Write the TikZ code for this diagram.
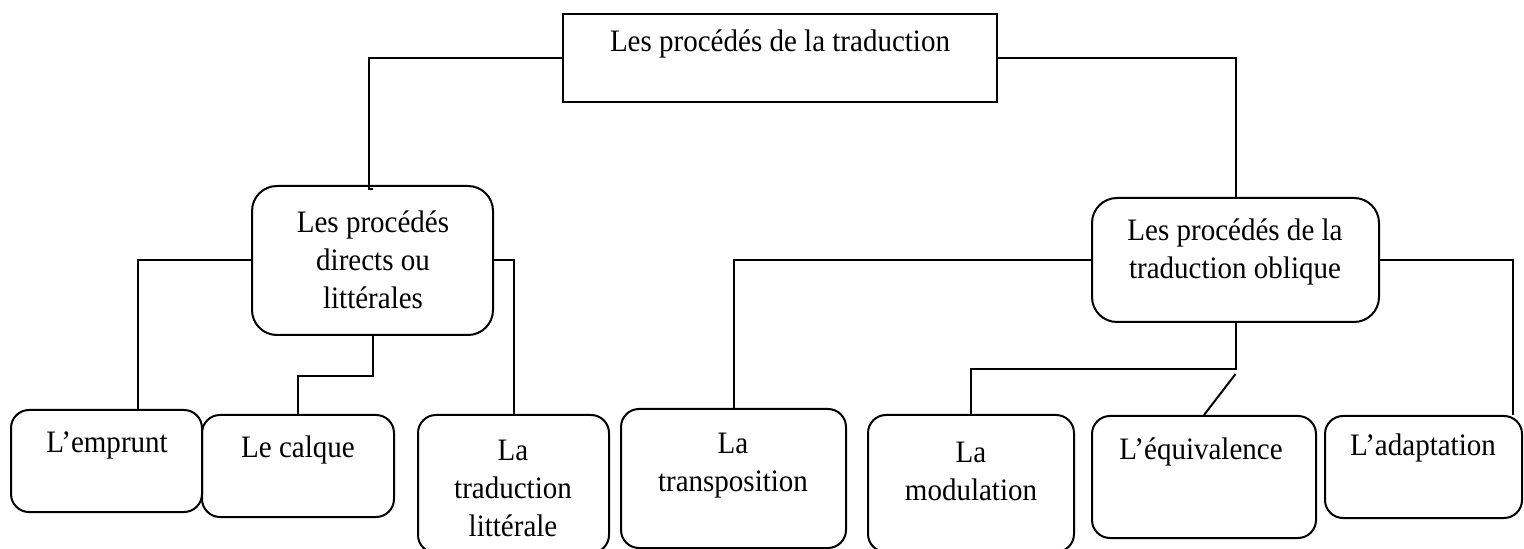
\documentclass[tikz,border=0pt]{standalone}
\usepackage{fontspec}
\setmainfont[FakeStretch=0.93]{Liberation Serif}
\begin{document}
\begin{tikzpicture}[x=0.5pt,y=-0.5pt,line width=1pt,
    proc/.style={draw,rounded corners=9pt,inner sep=0pt},
    lbl/.style={align=center,inner sep=0pt,font=\fontsize{15.6}{19}\selectfont}]

\useasboundingbox (0,0) rectangle (1524,549);
\clip (0,0) rectangle (1524,549);

\node[draw,inner sep=0pt,minimum width=217pt,minimum height=44pt] (top) at (780,58) {};
\node[proc,rounded corners=12.5pt,minimum width=120.5pt,minimum height=74.5pt] (directs) at (372.5,260.5) {};
\node[proc,rounded corners=12.5pt,minimum width=143.5pt,minimum height=62pt] (oblique) at (1235.5,260) {};

\node[proc,minimum width=95.5pt,minimum height=51pt] (emprunt) at (106.5,461) {};
\node[proc,minimum width=96pt,minimum height=51pt] (calque) at (298,466) {};
\node[proc,minimum width=95.5pt,minimum height=69pt] (litterale) at (513.5,484) {};
\node[proc,minimum width=112.5pt,minimum height=69.5pt] (transposition) at (733.5,478.5) {};
\node[proc,minimum width=103pt,minimum height=68.5pt] (modulation) at (971,483.5) {};
\node[proc,minimum width=112pt,minimum height=61pt] (equivalence) at (1204,477) {};
\node[proc,minimum width=98.5pt,minimum height=51pt] (adaptation) at (1423.5,467) {};

\node[lbl] (t-top) at (780,44) {Les procédés de la traduction};
\node[lbl] (t-directs) at (373,260) {Les procédés\\directs ou\\littérales};
\node[lbl] (t-oblique) at (1235,251.5) {Les procédés de la\\traduction oblique};
\node[lbl] (t-emprunt) at (107,445) {L’emprunt};
\node[lbl] (t-calque) at (298,450) {Le calque};
\node[lbl] (t-litterale) at (513,488.5) {La\\traduction\\littérale};
\node[lbl] (t-transposition) at (733,466) {La\\transposition};
\node[lbl] (t-modulation) at (971,471) {La\\modulation};
\node[lbl] (t-equivalence) at (1201,452) {L’équivalence};
\node[lbl] (t-adaptation) at (1423,448) {L’adaptation};

\coordinate (dir-in) at (369,189);
\coordinate (obl-split) at ([yshift=-25.5pt]oblique.south);

\draw (top.west) -| (dir-in) -- (dir-in -| directs.north);
\draw (top.east) -| (oblique.north);
\draw (directs.west) -| ([xshift=15.75pt]emprunt.north);
\draw (directs.south) -- ++(0,40) -| (calque.north);
\draw (directs.east) -| (litterale.north);
\draw (oblique.west) -| (transposition.north);
\draw (oblique.south) -- ++(0,46) -| (modulation.north);
\draw (obl-split) -- (equivalence.north);
\draw (oblique.east) -| ([xshift=-5pt]adaptation.north east);
\end{tikzpicture}
\end{document}
